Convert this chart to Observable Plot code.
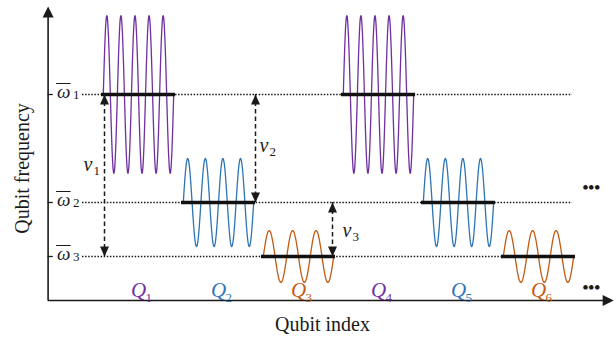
<!DOCTYPE html>
<html><head><meta charset="utf-8">
<script src="https://cdn.jsdelivr.net/npm/d3@7"></script>
<script src="https://cdn.jsdelivr.net/npm/@observablehq/plot@0.6"></script>
<style>body{margin:0;background:#fff} svg{display:block}</style>
</head><body><div id="chart"></div>
<script>
// ---- data ----
const qubitIndex = [1, 2, 3, 4, 5, 6];
const qubitSub = ["1", "2", "3", "4", "5", "6"];
const qubitLevel = [3, 1, 0, 3, 1, 0];          // ω̄1 = 3, ω̄2 = 1, ω̄3 = 0 (frequency units)
const waveAmplitude = [1.46, 0.815, 0.48, 1.46, 0.815, 0.48];
const waveCycles = [5, 4, 3, 5, 4, 3];
const qubitColor = ["#7030a0", "#2e75b6", "#c55a11", "#7030a0", "#2e75b6", "#c55a11"];
const levelValues = [3, 1, 0];
const levelSub = ["1", "2", "3"];
const detuningSub = ["1", "2", "3"];
const detuningX = [0.575, 2.4625, 3.425];
const detuningFrom = [3, 3, 1];
const detuningTo = [0, 1, 0];

// ---- layout constants ----
const axisX = -0.13, axisY = -0.815, axisTopY = 4.63, axisRightX = 6.94;
const levelLineX1 = 0.3, levelLineX2 = 6.425;
const barHalf = 0.4625, waveHalf = 0.44;
const dotsX = 6.66;
const nuDx = [-21, 4, 10], nuDy = [-10.7, -2.7, 1.3];
const ink = "#1a1a1a";
const serif = "Liberation Serif, Times New Roman, serif";

const waveData = qubitIndex.flatMap((q, k) => d3.range(0, 241).map(j => {
  const t = j / 240;
  return {q, x: q - waveHalf + 2 * waveHalf * t,
          y: qubitLevel[k] + waveAmplitude[k] * Math.sin(2 * Math.PI * waveCycles[k] * t),
          color: qubitColor[k]};
}));

const triUp = {draw(c) { c.moveTo(0, 0); c.lineTo(-4.5, 10); c.lineTo(4.5, 10); c.closePath(); }};
const triDown = {draw(c) { c.moveTo(0, 0); c.lineTo(-4.5, -10); c.lineTo(4.5, -10); c.closePath(); }};
const axUp = {draw(c) { c.moveTo(0, 0); c.lineTo(-5.5, 11); c.lineTo(5.5, 11); c.closePath(); }};
const axRight = {draw(c) { c.moveTo(0, 0); c.lineTo(-11, -5.5); c.lineTo(-11, 5.5); c.closePath(); }};

const det = [0, 1, 2];

const nuMarks = det.flatMap(i => [
  Plot.text([i], {x: detuningX[i], y: (detuningFrom[i] + detuningTo[i]) / 2, text: () => "ν",
    dx: nuDx[i], dy: nuDy[i], fontSize: 20, fontStyle: "italic", textAnchor: "start", fill: ink}),
  Plot.text([i], {x: detuningX[i], y: (detuningFrom[i] + detuningTo[i]) / 2, text: () => detuningSub[i],
    dx: nuDx[i] + 10, dy: nuDy[i] + 6.4, fontSize: 13, textAnchor: "start", fill: ink})
]);

const chart = Plot.plot({
  width: 616, height: 339,
  marginLeft: 0, marginRight: 0, marginTop: 0, marginBottom: 0,
  x: {domain: [-0.725, 6.975], axis: null},
  y: {domain: [-1.537, 4.7407], axis: null},
  color: {type: "identity"},
  style: {fontFamily: serif, background: "#fff", color: ink},
  marks: [
    // dotted frequency levels
    Plot.ruleY(levelValues, {y: d => d, x1: levelLineX1, x2: levelLineX2, stroke: ink, strokeWidth: 1.5, strokeDasharray: "1.5,1.6"}),
    // waves
    Plot.line(waveData, {x: "x", y: "y", z: "q", stroke: "color", strokeWidth: 1.3}),
    // thick level bars
    Plot.ruleY(qubitIndex, {y: (d, i) => qubitLevel[i], x1: d => d - barHalf, x2: d => d + barHalf, stroke: "#111", strokeWidth: 3.5}),
    // detuning arrows
    Plot.ruleX(det, {x: i => detuningX[i], y1: i => detuningFrom[i], y2: i => detuningTo[i], stroke: ink, strokeWidth: 1.5, strokeDasharray: "4.5,3"}),
    Plot.dot(det, {x: i => detuningX[i], y: i => detuningFrom[i], symbol: triUp, fill: ink, stroke: "none"}),
    Plot.dot(det, {x: i => detuningX[i], y: i => detuningTo[i], symbol: triDown, fill: ink, stroke: "none"}),
    ...nuMarks,
    // axes
    Plot.ruleX([axisX], {x: d => d, y1: axisY, y2: axisTopY - 0.1, stroke: ink, strokeWidth: 1.6}),
    Plot.ruleY([axisY], {y: d => d, x1: axisX, x2: axisRightX - 0.05, stroke: ink, strokeWidth: 1.6}),
    Plot.dot([0], {x: axisX, y: axisTopY, symbol: axUp, fill: ink, stroke: "none"}),
    Plot.dot([0], {x: axisRightX, y: axisY, symbol: axRight, fill: ink, stroke: "none"}),
    Plot.ruleY(levelValues, {y: d => d, x1: axisX, x2: axisX + 0.065, stroke: ink, strokeWidth: 1.3}),
    // ω̄ labels
    Plot.text(levelValues, {x: axisX, y: d => d, text: () => "ω", dx: 9, dy: -2.7, fontSize: 19, fontStyle: "italic", textAnchor: "start", fill: ink}),
    Plot.text(levelValues, {x: axisX, y: d => d, text: (d, i) => levelSub[i], dx: 25, dy: 0.5, fontSize: 13, textAnchor: "start", fill: ink}),
    Plot.ruleY(levelValues, {y: d => d, x1: axisX + 8.5 / 80, x2: axisX + 23 / 80, dy: -11, stroke: ink, strokeWidth: 1}),
    // Q labels
    Plot.text(qubitIndex, {x: d => d, y: axisY, text: () => "Q", dy: -10, fontSize: 21, fontStyle: "italic", fill: (d, i) => qubitColor[i]}),
    Plot.text(qubitIndex, {x: d => d, y: axisY, text: (d, i) => qubitSub[i], dx: 7, dy: -3, fontSize: 13, textAnchor: "start", fill: (d, i) => qubitColor[i]}),
    // ellipses
    Plot.text([1], {x: dotsX, y: d => d, text: () => "•••", dy: -14.9, fontSize: 17, fontWeight: "bold", fill: ink}),
    Plot.text([axisY], {x: dotsX, y: d => d, text: () => "•••", dy: -12.9, fontSize: 17, fontWeight: "bold", fill: ink}),
    // axis titles
    Plot.text(["Qubit frequency"], {frameAnchor: "left", textAnchor: "middle", lineAnchor: "middle", text: d => d, rotate: -90, dx: 22, dy: -1.5, fontSize: 20, fill: ink}),
    Plot.text(["Qubit index"], {frameAnchor: "bottom", textAnchor: "middle", lineAnchor: "middle", text: d => d, dx: 14, dy: -15.4, fontSize: 20, fill: ink})
  ]
});

document.getElementById("chart").appendChild(chart);
</script>
</body></html>
